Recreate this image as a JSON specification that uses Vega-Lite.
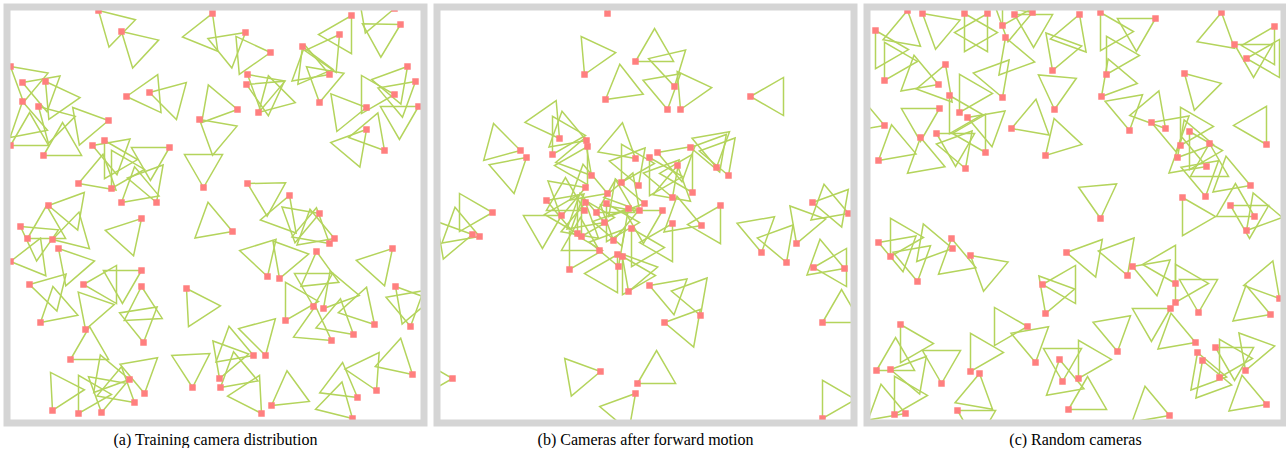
{
  "$schema": "https://vega.github.io/schema/vega-lite/v6.json",
  "background": "white",
  "padding": {"left": 3, "top": 3, "right": 0, "bottom": 0},
  "spacing": 5,
  "config": {"view": {"stroke": null}},
  "datasets": {
    "p1": [
      {"x":98,"y":10,"a":44},{"x":121,"y":31,"a":43},{"x":212,"y":13,"a":112},{"x":10,"y":66,"a":40},
      {"x":22,"y":82,"a":20},{"x":45,"y":81,"a":55},{"x":22,"y":101,"a":79},{"x":38,"y":106,"a":45},
      {"x":108,"y":120,"a":170},{"x":10,"y":145,"a":330},{"x":43,"y":155,"a":330},{"x":126,"y":96,"a":355},
      {"x":149,"y":92,"a":15},{"x":199,"y":119,"a":40},{"x":92,"y":145,"a":20},{"x":104,"y":140,"a":60},
      {"x":169,"y":147,"a":150},{"x":78,"y":183,"a":340},{"x":111,"y":188,"a":300},{"x":121,"y":202,"a":320},
      {"x":156,"y":202,"a":250},{"x":203,"y":187,"a":270},{"x":48,"y":205,"a":10},{"x":351,"y":15,"a":120},
      {"x":339,"y":34,"a":125},{"x":302,"y":46,"a":67},{"x":329,"y":74,"a":200},{"x":319,"y":102,"a":280},
      {"x":400,"y":24,"a":151},{"x":394,"y":8,"a":170},{"x":407,"y":66,"a":130},{"x":415,"y":81,"a":140},
      {"x":394,"y":94,"a":180},{"x":418,"y":106,"a":150},{"x":366,"y":107,"a":171},{"x":366,"y":129,"a":130},
      {"x":384,"y":150,"a":230},{"x":270,"y":52,"a":175},{"x":245,"y":32,"a":141},{"x":247,"y":74,"a":40},
      {"x":246,"y":84,"a":25},{"x":258,"y":112,"a":315},{"x":237,"y":109,"a":190},{"x":247,"y":183,"a":29},
      {"x":289,"y":195,"a":110},{"x":319,"y":213,"a":160},{"x":20,"y":226,"a":35},{"x":27,"y":238,"a":330},
      {"x":52,"y":239,"a":344},{"x":58,"y":248,"a":49},{"x":141,"y":218,"a":132},{"x":10,"y":261,"a":352},
      {"x":29,"y":284,"a":14},{"x":83,"y":284,"a":0},{"x":141,"y":270,"a":150},{"x":141,"y":286,"a":87},
      {"x":186,"y":288,"a":57},{"x":40,"y":322,"a":319},{"x":85,"y":329,"a":289},{"x":143,"y":342,"a":261},
      {"x":70,"y":359,"a":330},{"x":129,"y":379,"a":190},{"x":144,"y":393,"a":260},{"x":134,"y":402,"a":220},
      {"x":192,"y":387,"a":267},{"x":52,"y":410,"a":297},{"x":78,"y":413,"a":300},{"x":101,"y":412,"a":280},
      {"x":232,"y":231,"a":200},{"x":334,"y":238,"a":200},{"x":329,"y":243,"a":220},{"x":316,"y":251,"a":84},
      {"x":392,"y":248,"a":132},{"x":267,"y":276,"a":253},{"x":279,"y":278,"a":290},{"x":395,"y":286,"a":50},
      {"x":313,"y":306,"a":270},{"x":323,"y":308,"a":310},{"x":285,"y":320,"a":300},{"x":374,"y":324,"a":228},
      {"x":410,"y":326,"a":260},{"x":353,"y":334,"a":220},{"x":331,"y":340,"a":215},{"x":253,"y":355,"a":200},
      {"x":265,"y":355,"a":255},{"x":219,"y":378,"a":290},{"x":220,"y":387,"a":320},{"x":271,"y":405,"a":324},
      {"x":261,"y":413,"a":237},{"x":357,"y":397,"a":217},{"x":376,"y":390,"a":244},{"x":412,"y":374,"a":222},
      {"x":352,"y":418,"a":224}
    ],
    "p2": [
      {"x":606,"y":13,"a":270},{"x":583,"y":74,"a":295},{"x":604,"y":99,"a":322},{"x":634,"y":61,"a":330},
      {"x":519,"y":150,"a":195},{"x":525,"y":157,"a":139},{"x":558,"y":138,"a":235},{"x":551,"y":154,"a":300},
      {"x":585,"y":140,"a":200},{"x":586,"y":146,"a":120},{"x":634,"y":158,"a":220},{"x":590,"y":175,"a":230},
      {"x":620,"y":182,"a":300},{"x":637,"y":185,"a":250},{"x":584,"y":187,"a":160},{"x":606,"y":193,"a":200},
      {"x":584,"y":202,"a":100},{"x":605,"y":203,"a":60},{"x":643,"y":203,"a":190},{"x":627,"y":208,"a":130},
      {"x":638,"y":210,"a":230},{"x":583,"y":210,"a":210},{"x":491,"y":212,"a":180},{"x":673,"y":86,"a":257},
      {"x":666,"y":109,"a":260},{"x":679,"y":109,"a":295},{"x":749,"y":96,"a":0},{"x":689,"y":147,"a":10},
      {"x":715,"y":167,"a":260},{"x":727,"y":175,"a":250},{"x":656,"y":152,"a":20},{"x":648,"y":157,"a":60},
      {"x":676,"y":165,"a":100},{"x":691,"y":192,"a":240},{"x":671,"y":197,"a":250},{"x":719,"y":205,"a":120},
      {"x":811,"y":202,"a":10},{"x":847,"y":213,"a":200},{"x":478,"y":236,"a":200},{"x":471,"y":234,"a":170},
      {"x":576,"y":233,"a":240},{"x":580,"y":236,"a":300},{"x":603,"y":222,"a":200},{"x":616,"y":254,"a":120},
      {"x":621,"y":256,"a":60},{"x":617,"y":266,"a":250},{"x":568,"y":269,"a":300},{"x":627,"y":291,"a":290},
      {"x":648,"y":285,"a":20},{"x":661,"y":210,"a":150},{"x":671,"y":223,"a":120},{"x":700,"y":225,"a":200},
      {"x":760,"y":252,"a":260},{"x":785,"y":262,"a":250},{"x":795,"y":243,"a":290},{"x":812,"y":267,"a":0},
      {"x":843,"y":268,"a":200},{"x":821,"y":322,"a":330},{"x":663,"y":322,"a":10},{"x":699,"y":315,"a":250},
      {"x":451,"y":378,"a":180},{"x":636,"y":383,"a":330},{"x":634,"y":393,"a":130},{"x":599,"y":371,"a":170},
      {"x":821,"y":418,"a":300},{"x":595,"y":212,"a":330},{"x":560,"y":215,"a":150},{"x":545,"y":200,"a":20},
      {"x":612,"y":240,"a":280},{"x":630,"y":228,"a":60},{"x":598,"y":250,"a":210}
    ],
    "p3": [
      {"x":873,"y":30,"a":60},{"x":882,"y":80,"a":300},{"x":905,"y":10,"a":100},{"x":920,"y":13,"a":40},
      {"x":962,"y":13,"a":60},{"x":985,"y":13,"a":120},{"x":1000,"y":25,"a":300},{"x":1003,"y":37,"a":70},
      {"x":1012,"y":14,"a":30},{"x":1030,"y":12,"a":160},{"x":1050,"y":70,"a":290},{"x":1077,"y":14,"a":110},
      {"x":1098,"y":12,"a":60},{"x":1104,"y":74,"a":300},{"x":1153,"y":18,"a":150},{"x":1182,"y":73,"a":45},
      {"x":1219,"y":12,"a":100},{"x":1232,"y":44,"a":30},{"x":1244,"y":58,"a":0},{"x":1272,"y":26,"a":120},
      {"x":943,"y":64,"a":110},{"x":936,"y":84,"a":200},{"x":947,"y":95,"a":60},{"x":937,"y":108,"a":150},
      {"x":957,"y":112,"a":300},{"x":965,"y":117,"a":20},{"x":1000,"y":97,"a":250},{"x":1009,"y":128,"a":340},
      {"x":1052,"y":109,"a":275},{"x":1099,"y":96,"a":310},{"x":1127,"y":130,"a":260},{"x":1149,"y":122,"a":20},
      {"x":1163,"y":128,"a":230},{"x":1178,"y":145,"a":300},{"x":1187,"y":131,"a":60},{"x":1207,"y":143,"a":90},
      {"x":1204,"y":166,"a":200},{"x":1175,"y":157,"a":310},{"x":1043,"y":155,"a":313},{"x":983,"y":152,"a":240},
      {"x":963,"y":168,"a":250},{"x":918,"y":137,"a":80},{"x":934,"y":133,"a":30},{"x":882,"y":125,"a":200},
      {"x":876,"y":160,"a":320},{"x":1264,"y":144,"a":240},{"x":1248,"y":185,"a":200},{"x":1228,"y":205,"a":30},
      {"x":1252,"y":216,"a":210},{"x":1244,"y":230,"a":310},{"x":1203,"y":196,"a":260},{"x":1180,"y":197,"a":60},
      {"x":1098,"y":218,"a":265},{"x":1064,"y":252,"a":10},{"x":1130,"y":266,"a":20},{"x":1125,"y":275,"a":250},
      {"x":1173,"y":283,"a":240},{"x":1173,"y":302,"a":300},{"x":1168,"y":308,"a":150},{"x":1196,"y":312,"a":270},
      {"x":1193,"y":342,"a":200},{"x":1195,"y":352,"a":70},{"x":1213,"y":347,"a":30},{"x":1277,"y":298,"a":230},
      {"x":1268,"y":314,"a":200},{"x":949,"y":238,"a":80},{"x":950,"y":248,"a":190},{"x":968,"y":255,"a":40},
      {"x":1040,"y":284,"a":0},{"x":1043,"y":313,"a":290},{"x":1025,"y":326,"a":180},{"x":915,"y":281,"a":260},
      {"x":888,"y":256,"a":300},{"x":876,"y":242,"a":20},{"x":898,"y":324,"a":60},{"x":1057,"y":359,"a":80},
      {"x":1060,"y":381,"a":270},{"x":1076,"y":378,"a":300},{"x":1115,"y":351,"a":260},{"x":1200,"y":360,"a":70},
      {"x":1217,"y":377,"a":300},{"x":1243,"y":370,"a":290},{"x":1264,"y":404,"a":200},{"x":1167,"y":415,"a":200},
      {"x":1066,"y":409,"a":330},{"x":1033,"y":362,"a":260},{"x":968,"y":371,"a":300},{"x":977,"y":373,"a":100},
      {"x":955,"y":410,"a":30},{"x":939,"y":383,"a":270},{"x":874,"y":370,"a":330},{"x":888,"y":369,"a":10},
      {"x":903,"y":413,"a":200},{"x":892,"y":414,"a":300}
    ]
  },
  "hconcat": [
    {
      "width": 417, "height": 416,
      "title": {"text": "(a) Training camera distribution", "orient": "bottom", "font": "Liberation Serif", "fontSize": 16, "fontWeight": "normal", "color": "black", "offset": 5},
      "layer": [
        {"data": {"name": "p1"},
         "mark": {"type": "point", "shape": "M0,0L1,-0.577L1,0.577Z", "filled": false, "color": "#b4d45c", "strokeWidth": 1.5, "size": 4356, "opacity": 1, "clip": true},
         "encoding": {
           "x": {"field": "x", "type": "quantitative", "scale": {"domain": [6.5, 423.5], "nice": false, "zero": false}, "axis": null},
           "y": {"field": "y", "type": "quantitative", "scale": {"domain": [6.5, 422.5], "reverse": true, "nice": false, "zero": false}, "axis": null},
           "angle": {"field": "a", "type": "quantitative", "scale": null}}},
        {"data": {"name": "p1"},
         "mark": {"type": "square", "color": "#ff7f7f", "size": 42, "opacity": 1, "clip": true},
         "encoding": {
           "x": {"field": "x", "type": "quantitative", "scale": {"domain": [6.5, 423.5], "nice": false, "zero": false}, "axis": null},
           "y": {"field": "y", "type": "quantitative", "scale": {"domain": [6.5, 422.5], "reverse": true, "nice": false, "zero": false}, "axis": null}}},
        {"data": {"values": [{}]},
         "mark": {"type": "rect", "fillOpacity": 0, "stroke": "#d5d5d5", "strokeWidth": 7},
         "encoding": {
           "x": {"datum": 6.5, "type": "quantitative", "scale": {"domain": [6.5, 423.5], "nice": false, "zero": false}, "axis": null},
           "x2": {"datum": 423.5},
           "y": {"datum": 6.5, "type": "quantitative", "scale": {"domain": [6.5, 422.5], "reverse": true, "nice": false, "zero": false}, "axis": null},
           "y2": {"datum": 422.5}}}
      ]
    },
    {
      "width": 417, "height": 416,
      "title": {"text": "(b) Cameras after forward motion", "orient": "bottom", "font": "Liberation Serif", "fontSize": 16, "fontWeight": "normal", "color": "black", "offset": 5},
      "layer": [
        {"data": {"name": "p2"},
         "mark": {"type": "point", "shape": "M0,0L1,-0.577L1,0.577Z", "filled": false, "color": "#b4d45c", "strokeWidth": 1.5, "size": 4356, "opacity": 1, "clip": true},
         "encoding": {
           "x": {"field": "x", "type": "quantitative", "scale": {"domain": [435.5, 852.5], "nice": false, "zero": false}, "axis": null},
           "y": {"field": "y", "type": "quantitative", "scale": {"domain": [6.5, 422.5], "reverse": true, "nice": false, "zero": false}, "axis": null},
           "angle": {"field": "a", "type": "quantitative", "scale": null}}},
        {"data": {"name": "p2"},
         "mark": {"type": "square", "color": "#ff7f7f", "size": 42, "opacity": 1, "clip": true},
         "encoding": {
           "x": {"field": "x", "type": "quantitative", "scale": {"domain": [435.5, 852.5], "nice": false, "zero": false}, "axis": null},
           "y": {"field": "y", "type": "quantitative", "scale": {"domain": [6.5, 422.5], "reverse": true, "nice": false, "zero": false}, "axis": null}}},
        {"data": {"values": [{}]},
         "mark": {"type": "rect", "fillOpacity": 0, "stroke": "#d5d5d5", "strokeWidth": 7},
         "encoding": {
           "x": {"datum": 435.5, "type": "quantitative", "scale": {"domain": [435.5, 852.5], "nice": false, "zero": false}, "axis": null},
           "x2": {"datum": 852.5},
           "y": {"datum": 6.5, "type": "quantitative", "scale": {"domain": [6.5, 422.5], "reverse": true, "nice": false, "zero": false}, "axis": null},
           "y2": {"datum": 422.5}}}
      ]
    },
    {
      "width": 417, "height": 416,
      "title": {"text": "(c) Random cameras", "orient": "bottom", "font": "Liberation Serif", "fontSize": 16, "fontWeight": "normal", "color": "black", "offset": 5},
      "layer": [
        {"data": {"name": "p3"},
         "mark": {"type": "point", "shape": "M0,0L1,-0.577L1,0.577Z", "filled": false, "color": "#b4d45c", "strokeWidth": 1.5, "size": 4356, "opacity": 1, "clip": true},
         "encoding": {
           "x": {"field": "x", "type": "quantitative", "scale": {"domain": [864.5, 1281.5], "nice": false, "zero": false}, "axis": null},
           "y": {"field": "y", "type": "quantitative", "scale": {"domain": [6.5, 422.5], "reverse": true, "nice": false, "zero": false}, "axis": null},
           "angle": {"field": "a", "type": "quantitative", "scale": null}}},
        {"data": {"name": "p3"},
         "mark": {"type": "square", "color": "#ff7f7f", "size": 42, "opacity": 1, "clip": true},
         "encoding": {
           "x": {"field": "x", "type": "quantitative", "scale": {"domain": [864.5, 1281.5], "nice": false, "zero": false}, "axis": null},
           "y": {"field": "y", "type": "quantitative", "scale": {"domain": [6.5, 422.5], "reverse": true, "nice": false, "zero": false}, "axis": null}}},
        {"data": {"values": [{}]},
         "mark": {"type": "rect", "fillOpacity": 0, "stroke": "#d5d5d5", "strokeWidth": 7},
         "encoding": {
           "x": {"datum": 864.5, "type": "quantitative", "scale": {"domain": [864.5, 1281.5], "nice": false, "zero": false}, "axis": null},
           "x2": {"datum": 1281.5},
           "y": {"datum": 6.5, "type": "quantitative", "scale": {"domain": [6.5, 422.5], "reverse": true, "nice": false, "zero": false}, "axis": null},
           "y2": {"datum": 422.5}}}
      ]
    }
  ]
}
